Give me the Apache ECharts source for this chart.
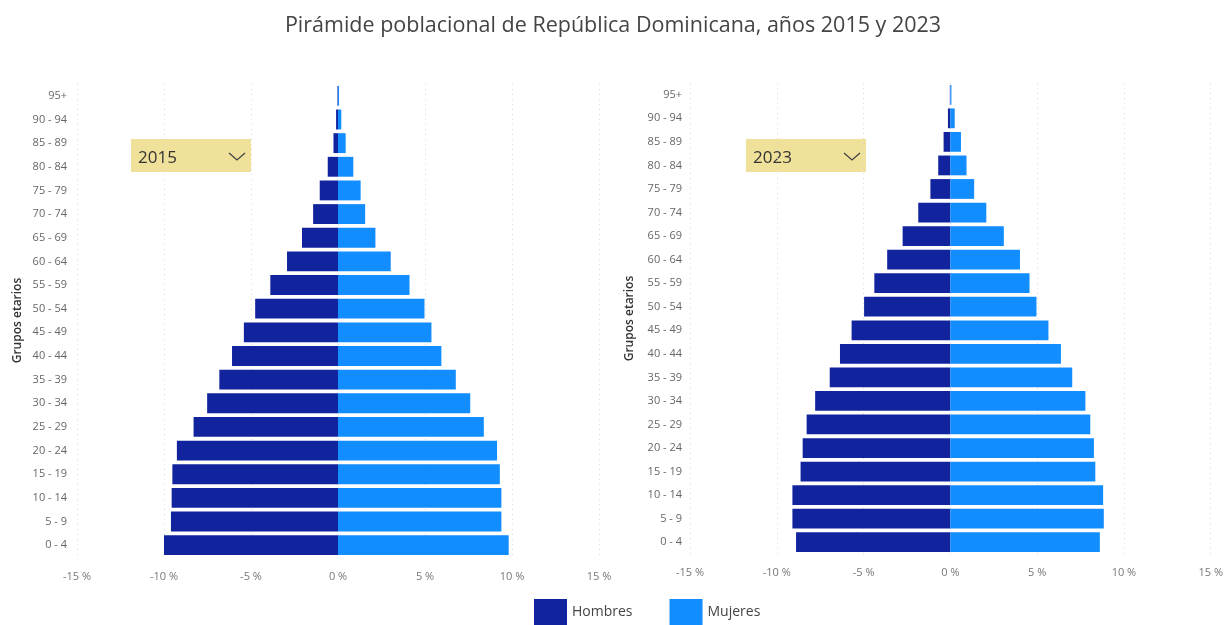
<!DOCTYPE html>
<html>
<head>
<meta charset="utf-8">
<script src="https://cdn.jsdelivr.net/npm/echarts@6/dist/echarts.min.js"></script>
<style>
  html, body { margin: 0; padding: 0; background: #fff; }
  #main { width: 1226px; height: 625px; }
</style>
</head>
<body>
<div id="main"></div>
<script>
// grupos de edad, de abajo hacia arriba
var grupos = ["0 - 4", "5 - 9", "10 - 14", "15 - 19", "20 - 24", "25 - 29", "30 - 34",
  "35 - 39", "40 - 44", "45 - 49", "50 - 54", "55 - 59", "60 - 64", "65 - 69",
  "70 - 74", "75 - 79", "80 - 84", "85 - 89", "90 - 94", "95+"];

// 2015 (porcentaje de la población total)
var hombres2015 = [10.0, 9.6, 9.56, 9.52, 9.26, 8.3, 7.52, 6.82, 6.09, 5.41, 4.76,
  3.89, 2.93, 2.07, 1.43, 1.05, 0.59, 0.26, 0.11, 0.03];
var mujeres2015 = [9.81, 9.39, 9.39, 9.3, 9.14, 8.38, 7.6, 6.77, 5.94, 5.37, 4.97,
  4.11, 3.03, 2.15, 1.56, 1.3, 0.88, 0.44, 0.19, 0.06];

// 2023
var hombres2023 = [8.89, 9.1, 9.1, 8.63, 8.51, 8.28, 7.79, 6.95, 6.36, 5.69, 4.97,
  4.38, 3.64, 2.75, 1.85, 1.15, 0.7, 0.39, 0.14, 0.03];
var mujeres2023 = [8.61, 8.84, 8.8, 8.35, 8.27, 8.06, 7.78, 7.02, 6.37, 5.65, 4.96,
  4.56, 4.01, 3.08, 2.07, 1.37, 0.93, 0.61, 0.25, 0.06];

var ticksX = [-15, -10, -5, 0, 5, 10, 15];

var fuente = "'Open Sans', 'Noto Sans', sans-serif";
var colorH = "#12239E";
var colorM = "#118DFF";

function neg(arr) {
  return arr.map(function (v) { return -v; });
}

function ejeX(idx, margen) {
  return {
    type: "value",
    gridIndex: idx,
    min: ticksX[0],
    max: ticksX[ticksX.length - 1],
    interval: 5,
    axisLine: { show: false },
    axisTick: { show: false },
    axisLabel: {
      margin: margen,
      color: "#777",
      fontSize: 11,
      fontFamily: fuente,
      formatter: function (v) { return v + " %"; }
    },
    splitLine: {
      show: true,
      lineStyle: { color: "#d9d9d9", width: 1, type: [1, 4] }
    }
  };
}

function ejeY(idx, gap, margen) {
  return {
    type: "category",
    gridIndex: idx,
    data: grupos,
    name: "Grupos etarios",
    nameLocation: "middle",
    nameGap: gap,
    nameRotate: 90,
    nameTextStyle: { color: "#333", fontSize: 12, fontWeight: 600, fontFamily: fuente },
    axisLine: { show: false },
    axisTick: { show: false },
    axisLabel: { margin: margen, color: "#666", fontSize: 11, fontFamily: fuente },
    splitLine: { show: false }
  };
}

function serie(nombre, idx, datos, color, pila) {
  return {
    name: nombre,
    type: "bar",
    xAxisIndex: idx,
    yAxisIndex: idx,
    stack: pila,
    data: datos,
    barCategoryGap: "16%",
    itemStyle: { color: color },
    emphasis: { disabled: true }
  };
}

function selector(x, anio) {
  return {
    type: "group",
    left: x,
    top: 139,
    children: [
      { type: "rect", shape: { x: 0, y: 0, width: 120, height: 33 }, style: { fill: "#EFE09A" } },
      { type: "text", x: 7, y: 19, style: { text: anio, fill: "#333", font: "17px " + fuente, verticalAlign: "middle" } },
      { type: "polyline", shape: { points: [[98, 14], [106, 21], [114, 14]] }, style: { stroke: "#444", lineWidth: 1.3, fill: null } }
    ]
  };
}

var chart = echarts.init(document.getElementById("main"));
chart.setOption({
  animation: false,
  title: {
    text: "Pirámide poblacional de República Dominicana, años 2015 y 2023",
    left: "center",
    top: 10,
    textStyle: { color: "#444", fontSize: 21.5, fontWeight: "normal", fontFamily: fuente }
  },
  legend: {
    data: ["Hombres", "Mujeres"],
    left: 534,
    top: 599,
    padding: 0,
    itemWidth: 33,
    itemHeight: 26,
    itemGap: 37,
    icon: "rect",
    textStyle: { color: "#444", fontSize: 14, fontFamily: fuente, padding: [6, 0, 0, 0] }
  },
  grid: [
    { left: 77, right: 627, top: 84, bottom: 68 },
    { left: 690, right: 11, top: 83, bottom: 71 }
  ],
  xAxis: [ejeX(0, 14), ejeX(1, 13)],
  yAxis: [ejeY(0, 53, 10), ejeY(1, 54, 8)],
  series: [
    serie("Hombres", 0, neg(hombres2015), colorH, "a"),
    serie("Mujeres", 0, mujeres2015, colorM, "a"),
    serie("Hombres", 1, neg(hombres2023), colorH, "b"),
    serie("Mujeres", 1, mujeres2023, colorM, "b")
  ],
  graphic: [selector(131, "2015"), selector(746, "2023")]
});
</script>
</body>
</html>
